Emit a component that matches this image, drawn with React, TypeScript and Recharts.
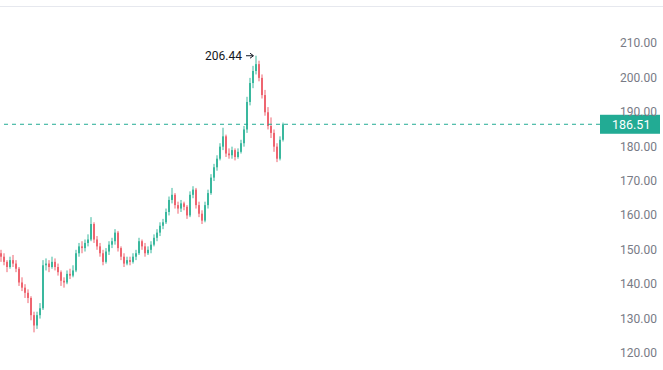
import React from "react";
import { ComposedChart, Bar, XAxis, YAxis, ReferenceLine } from "recharts";

const opens = [
  149, 148, 146.5, 145, 147, 146, 144.5, 140.5, 139, 137.5,
  136, 131, 128, 131, 133, 145.5, 146, 145, 146.5, 145,
  143.5, 141, 140.5, 143, 142.5, 144, 149, 151, 150.5, 152,
  153, 157.5, 153, 151, 149, 146.5, 149.5, 151.5, 152.5, 155,
  150.5, 148, 146, 147, 146.5, 148, 149, 152.5, 151, 149,
  150, 151.5, 153.5, 155, 157, 158, 161, 164.5, 166, 163,
  162, 163.5, 162.5, 160, 166, 167.5, 163, 160.5, 158.5, 163,
  166.5, 171, 174, 176.5, 180, 183, 178, 177.5, 179, 177,
  178.5, 181, 185, 193, 198.5, 202, 204, 200, 195, 190,
  186, 184, 180, 176.5, 182,
];
const highs = [
  150, 149, 147, 148, 148.5, 147, 145, 142, 140, 138.5,
  136.5, 132, 132, 134.5, 147, 147.5, 147, 148, 147.5, 146,
  144, 142, 144, 144.5, 145.5, 150, 152, 152.5, 153, 154.5,
  159.5, 158, 154, 152, 150, 150.5, 152.5, 153.5, 156, 155.5,
  151, 149, 148, 148, 149, 150, 153.5, 153, 152, 151,
  152.5, 154.5, 156, 158, 159, 162, 165.5, 168, 166.5, 164,
  164.5, 164, 163, 167, 168.5, 168, 164, 161.5, 164, 167.5,
  172, 175, 177.5, 181, 185.5, 183.5, 179.5, 180, 179.5, 179.5,
  182, 186, 194.5, 200, 203.5, 206.44, 205, 201, 196.5, 191.5,
  188.5, 185, 181, 183, 187,
];
const lows = [
  146.5, 145.5, 143.5, 144.5, 145, 143.5, 139.5, 138, 136, 134.5,
  129.5, 126, 127, 130, 132.5, 144, 143.5, 144.5, 144, 142.5,
  139.5, 139, 140, 141.5, 142, 143.5, 148, 149, 149.5, 151,
  152.5, 152, 150, 148, 145.5, 146, 148.5, 150.5, 151.5, 149.5,
  147, 145, 145.5, 145.5, 146, 147, 148.5, 150, 148, 148.5,
  149, 151, 152.5, 154, 156, 157.5, 160, 163.5, 162, 160.5,
  161, 161.5, 159, 159.5, 165, 162, 159.5, 157.5, 158, 162,
  166, 170, 173, 176, 179, 177, 176.5, 176.5, 176, 176.5,
  178, 180, 184, 192, 197, 201, 199, 194, 189, 185,
  182.5, 178.5, 175.5, 176, 181.5,
];
const closes = [
  148, 146.5, 145, 147, 146, 144.5, 140.5, 139, 137.5, 136,
  131, 128, 131, 133, 145.5, 146, 145, 146.5, 145, 143.5,
  141, 140.5, 143, 142.5, 144, 149, 151, 150.5, 152, 153,
  157.5, 153, 151, 149, 146.5, 149.5, 151.5, 152.5, 155, 150.5,
  148, 146, 147, 146.5, 148, 149, 152.5, 151, 149, 150,
  151.5, 153.5, 155, 157, 158, 161, 164.5, 166, 163, 162,
  163.5, 162.5, 160, 166, 167.5, 163, 160.5, 158.5, 163, 166.5,
  171, 174, 176.5, 180, 183, 178, 177.5, 179, 177, 178.5,
  181, 185, 193, 198.5, 202, 204, 200, 195, 190, 186,
  184, 180, 176.5, 182, 186.51,
];
const yTicks = [120, 130, 140, 150, 160, 170, 180, 190, 200, 210];
const lastPrice = 186.51;
const slotCount = 200;

const UP = "#3ab89e";
const DOWN = "#ee6570";
const LABEL_BG = "#22ab94";

const data = closes.map((c, i) => ({
  t: i + 0.5,
  open: opens[i],
  high: highs[i],
  low: lows[i],
  close: c,
  range: [lows[i], highs[i]],
}));

const maxHigh = Math.max(...highs);

const Candle = (props: any) => {
  const { x, y, width, height, payload } = props;
  if (!payload) return null;
  const { open, close, high, low } = payload;
  const top = Math.min(y, y + height);
  const bottom = Math.max(y, y + height);
  const span = high - low || 1;
  const pix = (v: number) => top + ((high - v) / span) * (bottom - top);
  const cx = x + width / 2;
  const color = close >= open ? UP : DOWN;
  const bTop = pix(Math.max(open, close));
  const bBot = pix(Math.min(open, close));
  const ann = high === maxHigh;
  return (
    <g>
      <line x1={cx} x2={cx} y1={top} y2={bottom} stroke={color} strokeWidth={1} />
      <rect x={cx - 1} y={bTop} width={2} height={Math.max(1, bBot - bTop)} fill={color} />
      {ann && (
        <g>
          <text
            x={cx - 14}
            y={top}
            dy={4}
            textAnchor="end"
            fontSize={12}
            fontFamily="Roboto, sans-serif"
            fill="#131722"
          >
            {high.toFixed(2)}
          </text>
          <line x1={cx - 10} x2={cx - 3} y1={top} y2={top} stroke="#131722" strokeWidth={1} />
          <path d={`M ${cx - 6} ${top - 2.5} L ${cx - 2.5} ${top} L ${cx - 6} ${top + 2.5}`} stroke="#131722" strokeWidth={1} fill="none" />
        </g>
      )}
    </g>
  );
};

const YTick = (props: any) => {
  const { x, y, payload } = props;
  return (
    <text
      x={x + 12}
      y={y}
      dy={4}
      textAnchor="start"
      fontSize={12}
      fontFamily="Roboto, sans-serif"
      fill="#787b86"
    >
      {Number(payload.value).toFixed(2)}
    </text>
  );
};

const PriceLabel = (props: any) => {
  const vb = props.viewBox || {};
  const rx = vb.x + vb.width;
  const ry = vb.y;
  return (
    <g>
      <rect x={rx} y={ry - 9.5} width={60} height={19} fill={LABEL_BG} />
      <text
        x={rx + 12}
        y={ry}
        dy={4.5}
        textAnchor="start"
        fontSize={12.5}
        fontFamily="Roboto, sans-serif"
        fill="#ffffff"
      >
        {lastPrice.toFixed(2)}
      </text>
    </g>
  );
};

export default function App() {
  return (
    <div style={{ position: "relative", width: 663, height: 370, background: "#fff" }}>
      <style>{`body{margin:0;}`}</style>
      <div
        style={{
          position: "absolute",
          left: 0,
          top: 6,
          width: 663,
          height: 1,
          background: "#e6e8ee",
        }}
      />
      <ComposedChart
        width={663}
        height={370}
        data={data}
        margin={{ top: 6, right: 0, bottom: 0, left: 0 }}
      >
        <XAxis dataKey="t" type="number" domain={[0, slotCount]} hide />
        <YAxis
          orientation="right"
          width={63}
          domain={[115.05, 220.905]}
          ticks={yTicks}
          allowDataOverflow
          axisLine={false}
          tickLine={false}
          tick={<YTick />}
          interval={0}
        />
        <ReferenceLine
          y={lastPrice}
          stroke={LABEL_BG}
          strokeDasharray="4 4"
          strokeWidth={1}
          label={<PriceLabel />}
        />
        <Bar dataKey="range" barSize={2} shape={<Candle />} isAnimationActive={false} />
      </ComposedChart>
    </div>
  );
}
